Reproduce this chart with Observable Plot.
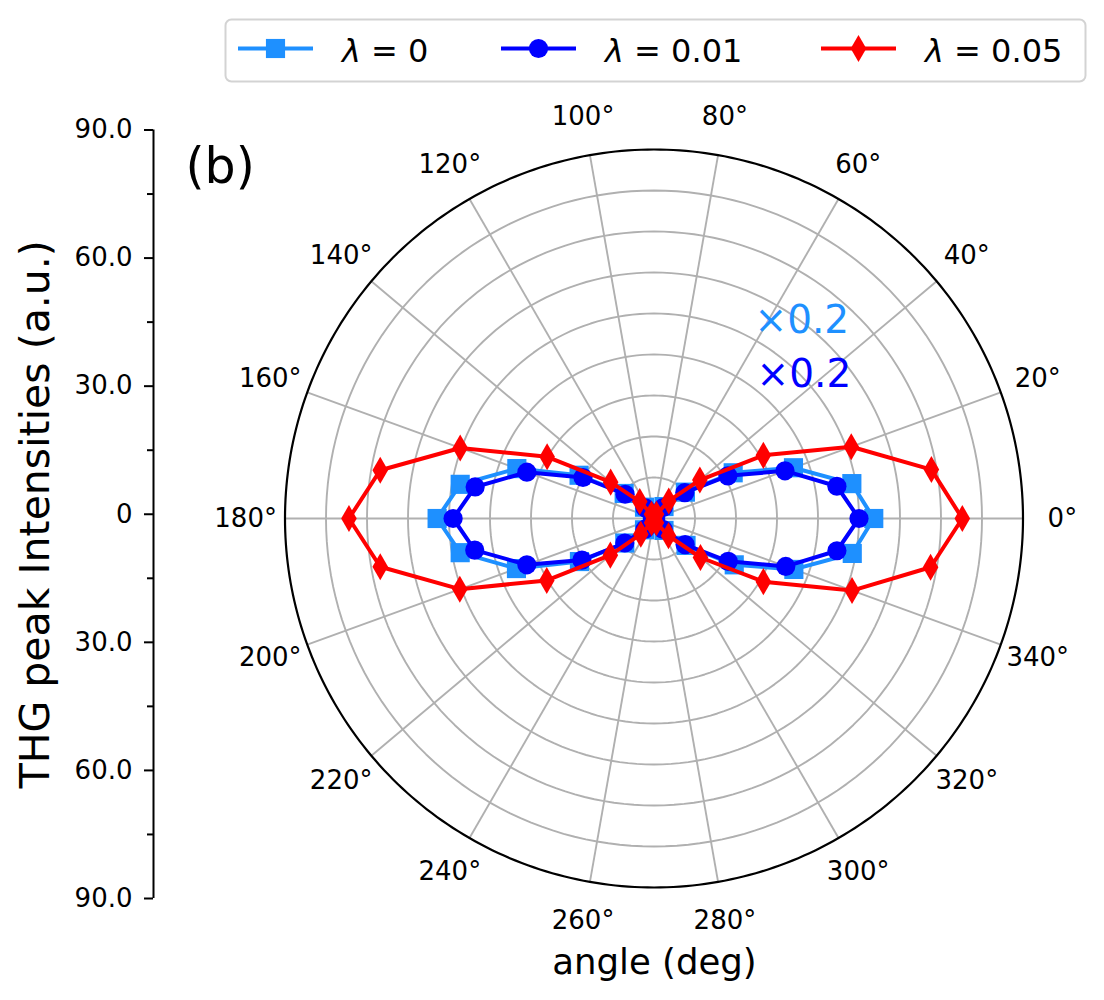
<!DOCTYPE html>
<html><head><meta charset="utf-8">
<script src="https://cdn.jsdelivr.net/npm/d3@7"></script>
<script src="https://cdn.jsdelivr.net/npm/@observablehq/plot@0.6"></script>
<style>
body{margin:0;background:#fff;font-family:"DejaVu Sans",sans-serif;}
#fig{position:relative;width:1104px;height:1000px;overflow:hidden;}
#fig svg{position:absolute;left:0;top:0;}
</style></head><body><div id="fig"></div>
<script>
// ---- data ----
const angles = [0,10,20,30,40,50,60,70,80,90,100,110,120,130,140,150,160,170,180,190,200,210,220,230,240,250,260,270,280,290,300,310,320,330,340,350];
const lam0   = [53.6,49.0,36.2,22.3,10.0,3.8,0.8,0.1,0,0,0,0.1,0.8,3.6,9.5,21.1,35.6,48.0,52.9,48.0,35.7,21.0,9.3,3.6,0.8,0.1,0,0,0,0.1,0.8,3.8,10.2,22.6,36.3,49.1];
const lam001 = [50.0,45.3,34.0,20.8,9.8,3.5,0.8,0.1,0,0,0,0.1,0.8,3.4,9.2,20.0,33.0,44.3,49.0,44.4,33.0,20.3,9.3,3.4,0.8,0.1,0,0,0,0.1,0.8,3.5,9.9,20.9,34.2,45.3];
const lam005 = [75.2,68.7,51.2,30.8,14.6,5.6,1.2,0.1,0,0,0,0.1,1.2,5.4,13.8,30.1,50.3,67.8,74.4,67.8,50.4,30.2,13.9,5.0,1.2,0.1,0,0,0,0.1,1.2,5.5,14.8,30.8,51.4,68.5];
const seriesNames = ["0", "0.01", "0.05"];
const seriesColors = ["#1e90ff", "#0000ff", "#ff0000"];
const seriesSymbols = ["square", "circle", "diamond"];
const thetaTicks = [0,20,40,60,80,100,120,140,160,180,200,220,240,260,280,300,320,340];
const rTicks = [10,20,30,40,50,60,70,80];
const rMax = 90;
const leftTicks = [-90,-60,-30,0,30,60,90];
const leftMinor = [-75,-45,-15,15,45,75];
const scaleNotes = ["×0.2", "×0.2"];

const FONT = "DejaVu Sans";
const rad = a => a * Math.PI / 180;
const px = d => d.r * Math.cos(rad(d.a));
const py = d => d.r * Math.sin(rad(d.a));
const fig = document.getElementById("fig");
const symR = {square: 10.8, circle: 9.6, diamond: 8.2};

// ---- left linear axis ----
const leftAxis = Plot.plot({
  width: 175, height: 1000,
  marginLeft: 153, marginRight: 20, marginTop: 129.5, marginBottom: 102,
  style: {background: "transparent", overflow: "visible", fontFamily: FONT, color: "black"},
  x: {domain: [0, 1], axis: null},
  y: {domain: [-90, 90], axis: null},
  marks: [
    Plot.ruleX([0], {stroke: "black", strokeWidth: 2}),
    Plot.axisY(leftTicks, {anchor: "left", label: null, tickSize: 9, tickPadding: 12, strokeWidth: 2,
      tickFormat: d => d === 0 ? "0" : Math.abs(d).toFixed(1), fontSize: 26}),
    Plot.axisY(leftMinor, {anchor: "left", label: null, tickSize: 6, strokeWidth: 2, tickFormat: () => ""}),
    Plot.text(["THG peak Intensities (a.u.)"], {frameAnchor: "left", rotate: -90, dx: -118, textAnchor: "middle", lineAnchor: "middle", fontSize: 41, fill: "black"})
  ]
});
fig.appendChild(leftAxis);

// ---- polar chart ----
const ringPts = rTicks.flatMap(r => d3.range(0, 361, 2).map(a => ({r, a})));
const outerPts = d3.range(0, 361, 1).map(a => ({r: rMax, a}));
const seriesVals = [lam0, lam001, lam005];
const seriesMarks = seriesVals.flatMap((vals, k) => {
  const pts = angles.map((a, i) => ({a, r: vals[i]}));
  const closed = pts.concat([pts[0]]);
  const sym = seriesSymbols[k];
  return [
    Plot.line(closed, {x: px, y: py, stroke: seriesColors[k], strokeWidth: 4, curve: "linear"}),
    Plot.dot(pts, {x: px, y: py, symbol: () => sym, r: symR[sym], fill: seriesColors[k], stroke: "none"})
  ];
});

const polar = Plot.plot({
  width: 1104, height: 1000, margin: 0,
  style: {background: "transparent", overflow: "visible", fontFamily: FONT, color: "black"},
  x: {domain: [-90, 90], range: [284.5, 1022.5], axis: null},
  y: {domain: [-90, 90], range: [887, 149], axis: null},
  symbol: {type: "identity"},
  marks: [
    Plot.line(ringPts, {x: px, y: py, z: "r", stroke: "#b0b0b0", strokeWidth: 1.9}),
    Plot.link(thetaTicks, {x1: () => 0, y1: () => 0, x2: t => rMax * Math.cos(rad(t)), y2: t => rMax * Math.sin(rad(t)), stroke: "#b0b0b0", strokeWidth: 1.9}),
    ...seriesMarks,
    Plot.line(outerPts, {x: px, y: py, stroke: "black", strokeWidth: 2.2}),
    Plot.text(thetaTicks, {x: t => 99.6 * Math.cos(rad(t)), y: t => 99.6 * Math.sin(rad(t)), text: t => t + "°", fontSize: 26, fill: "black", textAnchor: "middle", lineAnchor: "middle"}),
    Plot.text([scaleNotes[0]], {x: () => 24.5, y: () => 48.4, textAnchor: "start", fontSize: 39, fill: seriesColors[0]}),
    Plot.text([scaleNotes[1]], {x: () => 25.0, y: () => 35.0, textAnchor: "start", fontSize: 39, fill: seriesColors[1]}),
    Plot.text(["(b)"], {frameAnchor: "top-left", dx: 185, dy: 167, textAnchor: "start", lineAnchor: "middle", fontSize: 49, fill: "black"}),
    Plot.text(["angle (deg)"], {frameAnchor: "top-left", dx: 654, dy: 962, textAnchor: "middle", lineAnchor: "middle", fontSize: 35.5, fill: "black"})
  ]
});
fig.appendChild(polar);

// ---- legend ----
const legX = [238, 501, 821];
const lg = d3.select(fig).append("svg").attr("width", 1104).attr("height", 100).style("font-family", FONT);
lg.append("rect").attr("x", 225.5).attr("y", 19.5).attr("width", 860).attr("height", 62).attr("rx", 6)
  .attr("fill", "white").attr("fill-opacity", 0.8).attr("stroke", "#d3d3d3").attr("stroke-width", 2);
const symMap = {square: d3.symbolSquare, circle: d3.symbolCircle, diamond: d3.symbolDiamond};
seriesNames.forEach((name, k) => {
  const x0 = legX[k], yc = 48.5;
  lg.append("line").attr("x1", x0).attr("x2", x0 + 75).attr("y1", yc).attr("y2", yc)
    .attr("stroke", seriesColors[k]).attr("stroke-width", 4);
  const s = symR[seriesSymbols[k]];
  lg.append("path").attr("d", d3.symbol(symMap[seriesSymbols[k]], Math.PI * s * s)()).attr("transform", `translate(${x0 + 37.5},${yc})`)
    .attr("fill", seriesColors[k]);
  const t = lg.append("text").attr("x", x0 + 104).attr("y", 51).attr("dominant-baseline", "central")
    .attr("font-size", 32).attr("fill", "black");
  t.append("tspan").attr("font-style", "italic").text("λ");
  t.append("tspan").text(" = " + name);
});
</script></body></html>
